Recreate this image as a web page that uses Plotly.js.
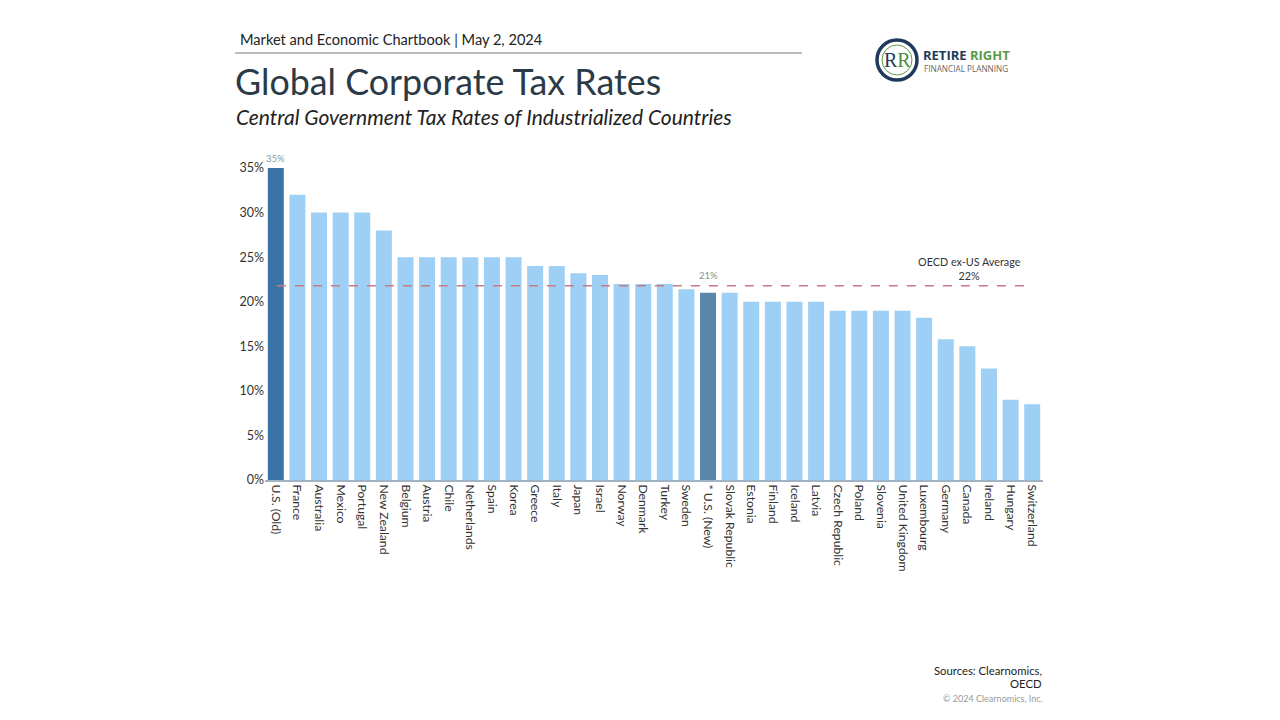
<!DOCTYPE html>
<html>
<head>
<meta charset="utf-8">
<script src="https://cdn.plot.ly/plotly-3.0.1.min.js"></script>
<style>
html,body{margin:0;padding:0;background:#fff;}
#chart{width:1280px;height:720px;}
</style>
</head>
<body>
<div id="chart"></div>
<script>
const countries = ["U.S. (Old)","France","Australia","Mexico","Portugal","New Zealand","Belgium","Austria","Chile","Netherlands","Spain","Korea","Greece","Italy","Japan","Israel","Norway","Denmark","Turkey","Sweden","* U.S. (New)","Slovak Republic","Estonia","Finland","Iceland","Latvia","Czech Republic","Poland","Slovenia","United Kingdom","Luxembourg","Germany","Canada","Ireland","Hungary","Switzerland"];
const rates = [35,32,30,30,30,28,25,25,25,25,25,25,24,24,23.2,23,22,22,22,21.4,21,21,20,20,20,20,19,19,19,19,18.2,15.8,15,12.5,9,8.5];
const oecdAvg = 21.8;
const yTicks = [0,5,10,15,20,25,30,35];
const yTickText = ["0%","5%","10%","15%","20%","25%","30%","35%"];

const FONT = "Lato, 'Open Sans', sans-serif";
const colors = countries.map(c => c === "U.S. (Old)" ? "#3a74a6" : (c === "* U.S. (New)" ? "#5b86ab" : "#9ecff4"));

const trace = {
  type: "bar",
  x: countries,
  y: rates,
  marker: {color: colors},
  width: 0.74,
  hoverinfo: "x+y"
};

const px = v => (v - 265) / 778;
const py = v => (720 - v - 240) / 312;

const layout = {
  width: 1280, height: 720,
  paper_bgcolor: "#fff", plot_bgcolor: "#fff",
  margin: {l: 265, r: 237, t: 168, b: 240, pad: 0},
  showlegend: false,
  font: {family: FONT, color: "#333"},
  xaxis: {
    type: "category",
    tickangle: 90,
    tickfont: {size: 12.2, color: "#333", family: FONT},
    showline: true, linecolor: "#9fb3c4", linewidth: 2,
    ticks: "", showgrid: false, fixedrange: true,
    range: [-0.5, countries.length - 0.5]
  },
  yaxis: {
    range: [0, 35],
    tickvals: yTicks, ticktext: yTickText,
    tickfont: {size: 12.5, color: "#333", family: FONT},
    showgrid: false, zeroline: false, showline: false,
    ticks: "", ticklen: 0
  },
  shapes: [
    {type: "line", xref: "x", yref: "y", x0: 0.05, x1: 34.75, y0: oecdAvg, y1: oecdAvg,
     line: {color: "#c97a82", width: 1.5, dash: "dash"}},
    {type: "line", xref: "paper", yref: "paper", x0: px(235), x1: px(802), y0: py(53), y1: py(53),
     line: {color: "#777", width: 1}},
    {type: "circle", xref: "paper", yref: "paper",
     x0: px(877), x1: px(917), y0: py(80), y1: py(40),
     fillcolor: "#fff", line: {color: "#1f3a5c", width: 3.5}},
    {type: "circle", xref: "paper", yref: "paper",
     x0: px(882), x1: px(912), y0: py(75), y1: py(45),
     fillcolor: "rgba(0,0,0,0)", line: {color: "#5a9a4a", width: 1}}
  ],
  annotations: [
    {xref: "paper", yref: "paper", x: px(238), y: py(40), xanchor: "left", yanchor: "middle",
     text: "Market and Economic Chartbook | May 2, 2024", showarrow: false,
     font: {size: 14.6, color: "#222", family: FONT}},
    {xref: "paper", yref: "paper", x: px(233), y: py(81), xanchor: "left", yanchor: "middle",
     text: "Global Corporate Tax Rates", showarrow: false,
     font: {size: 35.8, color: "#2b3a47", family: FONT}},
    {xref: "paper", yref: "paper", x: px(234), y: py(117), xanchor: "left", yanchor: "middle",
     text: "<i>Central Government Tax Rates of Industrialized Countries</i>", showarrow: false,
     font: {size: 21, color: "#222", family: FONT}},
    {xref: "x", yref: "y", x: countries[0], y: rates[0], yanchor: "bottom", yshift: 2,
     text: "35%", showarrow: false, font: {size: 9.5, color: "#7fa0a8", family: FONT}},
    {xref: "x", yref: "y", x: "* U.S. (New)", y: oecdAvg, yanchor: "bottom", yshift: 3,
     text: "21%", showarrow: false, font: {size: 9.5, color: "#7a9a8a", family: FONT}},
    {xref: "x", yref: "y", x: 32.1, y: oecdAvg, yanchor: "bottom", yshift: 2,
     text: "OECD ex-US Average<br>22%", showarrow: false, align: "center",
     font: {size: 10.8, color: "#333", family: FONT}},
    {xref: "paper", yref: "paper", x: px(1044), y: py(670), xanchor: "right", yanchor: "middle",
     text: "Sources: Clearnomics,", showarrow: false, font: {size: 11.3, color: "#222", family: FONT}},
    {xref: "paper", yref: "paper", x: px(1044), y: py(683), xanchor: "right", yanchor: "middle",
     text: "OECD", showarrow: false, font: {size: 11.3, color: "#222", family: FONT}},
    {xref: "paper", yref: "paper", x: px(1045), y: py(698), xanchor: "right", yanchor: "middle",
     text: "© 2024 Clearnomics, Inc.", showarrow: false, font: {size: 9, color: "#999", family: FONT}},
    {xref: "paper", yref: "paper", x: px(897), y: py(60), xanchor: "center", yanchor: "middle",
     text: "<span style='color:#1f3a5c'>R</span><span style='color:#4e8f3e'>R</span>", showarrow: false,
     font: {size: 20, family: "'Liberation Serif', 'DejaVu Serif', serif"}},
    {xref: "paper", yref: "paper", x: px(921), y: py(55), xanchor: "left", yanchor: "middle",
     text: "<b><span style='color:#1f3a5c'>RETIRE</span> <span style='color:#5a9a4a'>RIGHT</span></b>", showarrow: false,
     font: {size: 13, family: "'Open Sans', sans-serif"}},
    {xref: "paper", yref: "paper", x: px(922), y: py(68), xanchor: "left", yanchor: "middle",
     text: "FINANCIAL PLANNING", showarrow: false,
     font: {size: 8.2, color: "#666", family: "'Open Sans', sans-serif"}}
  ]
};

Plotly.newPlot("chart", [trace], layout, {staticPlot: true, displayModeBar: false});
</script>
</body>
</html>
